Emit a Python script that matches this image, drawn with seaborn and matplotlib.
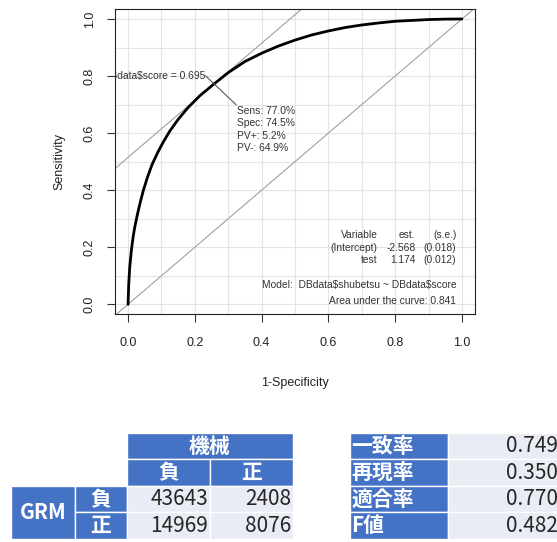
import numpy as np
import pandas as pd
import matplotlib
matplotlib.use("Agg")
import matplotlib.pyplot as plt
from matplotlib.patches import Rectangle
import seaborn as sns

# ---------------- data ----------------
fpr = [0.0, 0.002, 0.005, 0.010, 0.015, 0.020, 0.028, 0.036, 0.046, 0.058, 0.072,
       0.088, 0.105, 0.125, 0.150, 0.180, 0.215, 0.255, 0.300, 0.350, 0.400,
       0.450, 0.500, 0.550, 0.600, 0.650, 0.700, 0.750, 0.800, 0.850, 0.900,
       0.950, 1.0]
tpr = [0.0, 0.070, 0.130, 0.190, 0.235, 0.270, 0.315, 0.355, 0.400, 0.445, 0.490,
       0.530, 0.568, 0.607, 0.648, 0.690, 0.731, 0.770, 0.812, 0.851, 0.880,
       0.905, 0.926, 0.944, 0.958, 0.970, 0.979, 0.986, 0.992, 0.995, 0.998,
       0.9995, 1.0]

cutoff_label = "DBdata$score = 0.695"
sens_pct = 77.0
spec_pct = 74.5
pvpos_pct = 5.2
pvneg_pct = 64.9
coef_header = ["Variable", "est.", "(s.e.)"]
coef_names = ["(Intercept)", "test"]
coef_est = [-2.568, 1.174]
coef_se = [0.018, 0.012]
model_text = "Model:  DBdata$shubetsu ~ DBdata$score"
auc = 0.841

x_ticks = [0.0, 0.2, 0.4, 0.6, 0.8, 1.0]
y_ticks = [0.0, 0.2, 0.4, 0.6, 0.8, 1.0]

machine_header = "機械"
col_labels = ["負", "正"]
row_group = "GRM"
row_labels = ["負", "正"]
confusion = [[43643, 2408], [14969, 8076]]

metric_labels = ["一致率", "再現率", "適合率", "F値"]
metric_values = [0.749, 0.350, 0.770, 0.482]

# ---------------- style ----------------
sns.set_style("white")
plt.rcParams["font.family"] = ["Liberation Sans", "DejaVu Sans"]
BLUE = "#4472c4"
LIGHT = "#e9ebf5"
GRAY = "#a0a0a0"
TXT = "#333333"
FS = 7.4

W, H = 557, 542
fig = plt.figure(figsize=(W / 100, H / 100), dpi=100)

# overlay axes in pixel coordinates for the tables
tab = fig.add_axes([0, 0, 1, 1])
tab.set_xlim(0, W)
tab.set_ylim(H, 0)
tab.axis("off")

ax = fig.add_axes([114.7 / W, 1 - 314.3 / H, (475.3 - 114.7) / W, (314.3 - 9) / H])
ax.set_facecolor("white")

# grid at 0.1
ax.set_xticks(np.arange(0, 1.01, 0.1), minor=True)
ax.set_yticks(np.arange(0, 1.01, 0.1), minor=True)
ax.grid(which="both", color="#e4e4e4", lw=0.8, zorder=0)
ax.set_axisbelow(True)

# reference lines
ax.axline((0, 0), slope=1, color=GRAY, lw=0.8, zorder=2)
iso_offset = sens_pct / 100 - (1 - spec_pct / 100)
ax.axline((0, iso_offset), slope=1, color=GRAY, lw=0.8, zorder=2)

# ROC curve
df = pd.DataFrame({"fpr": fpr, "tpr": tpr})
sns.lineplot(data=df, x="fpr", y="tpr", sort=False, estimator=None,
             color="black", lw=2.0, ax=ax, zorder=4)

ax.set_xlim(-0.04, 1.04)
ax.set_ylim(-0.035, 1.035)

ax.set_xticks(x_ticks)
ax.set_yticks(y_ticks)
ax.set_xticklabels([f"{v:.1f}" for v in x_ticks])
ax.set_yticklabels([f"{v:.1f}" for v in y_ticks])
ax.tick_params(which="minor", length=0)
ax.tick_params(which="major", bottom=True, left=True, length=6, width=0.8,
               color="#333333", direction="out", labelsize=9, labelcolor="#222222")
ax.tick_params(axis="x", pad=10)
ax.tick_params(axis="y", pad=7.5, labelrotation=90)
plt.setp(ax.get_yticklabels(), va="center")
for s in ax.spines.values():
    s.set_visible(True)
    s.set_color("#222222")
    s.set_linewidth(0.8)

ax.set_xlabel("1-Specificity", fontsize=9, color="#222222")
ax.set_ylabel("Sensitivity", fontsize=9, color="#222222")
ax.xaxis.set_label_coords(0.5, -0.205)
ax.yaxis.set_label_coords(-0.137, 0.5)

# cutoff annotation
cx, cy = 1 - spec_pct / 100, sens_pct / 100
ax.plot([cx - 0.023, cx + 0.069], [cy + 0.031, cy - 0.071], color="#555555", lw=0.8, zorder=5)
ax.text(cx - 0.023, cy + 0.031, cutoff_label, ha="right", va="center", fontsize=FS,
        color=TXT, clip_on=True, zorder=6, parse_math=False)
info = [f"Sens: {sens_pct:.1f}%", f"Spec: {spec_pct:.1f}%",
        f"PV+: {pvpos_pct:.1f}%", f"PV-: {pvneg_pct:.1f}%"]
for i, t in enumerate(info):
    ax.text(cx + 0.071, cy - 0.091 - i * 0.044, t, ha="left", va="center",
            fontsize=FS, color=TXT, zorder=6)

# model summary
col_x = [0.747, 0.860, 0.983]
rows = [coef_header] + [[n, f"{e:.3f}", f"({s:.3f})"] for n, e, s in zip(coef_names, coef_est, coef_se)]
for r, row in enumerate(rows):
    for c, t in enumerate(row):
        ax.text(col_x[c], 0.243 - r * 0.0445, t, ha="right", va="center",
                fontsize=FS, color=TXT)
ax.text(0.983, 0.068, model_text, ha="right", va="center", fontsize=FS, color=TXT,
        parse_math=False)
ax.text(0.983, 0.012, f"Area under the curve: {auc:.3f}", ha="right", va="center",
        fontsize=FS, color=TXT)

# ---------------- tables ----------------
CJK = ["Noto Sans CJK JP", "DejaVu Sans"]


def cell(x0, x1, y0, y1, color, text="", ha="center", size=15, weight="normal",
         tcolor="white"):
    tab.add_patch(Rectangle((x0, y0), x1 - x0, y1 - y0, facecolor=color,
                            edgecolor="white", lw=1.0))
    if text:
        if ha == "center":
            tx = (x0 + x1) / 2
        elif ha == "right":
            tx = x1 - 2
        else:
            tx = x0 + 1
        tab.text(tx, (y0 + y1) / 2 + 0.5, text, ha=ha, va="center", fontsize=size,
                 fontweight=weight, color=tcolor, family=CJK)


ye = [433, 459, 485.5, 512, 538.5]
# table 1
cell(126.5, 293, ye[0], ye[1], BLUE, machine_header, weight="bold")
xe1 = [126.5, 210, 293]
for j, lab in enumerate(col_labels):
    cell(xe1[j], xe1[j + 1], ye[1], ye[2], BLUE, lab, weight="bold")
cell(11, 75, ye[2], ye[4], BLUE, row_group, weight="bold")
for i, lab in enumerate(row_labels):
    cell(75, 126.5, ye[2 + i], ye[3 + i], BLUE, lab, weight="bold")
    for j in range(2):
        cell(xe1[j], xe1[j + 1], ye[2 + i], ye[3 + i], LIGHT, f"{confusion[i][j]}",
             ha="right", tcolor="#262626")

# table 2
for i, (lab, val) in enumerate(zip(metric_labels, metric_values)):
    cell(350, 448, ye[i], ye[i + 1], BLUE, lab, ha="left", weight="bold")
    cell(448, 560, ye[i], ye[i + 1], LIGHT, f"{val:.3f}", ha="right", tcolor="#262626")

fig.savefig("out.png", dpi=100)
